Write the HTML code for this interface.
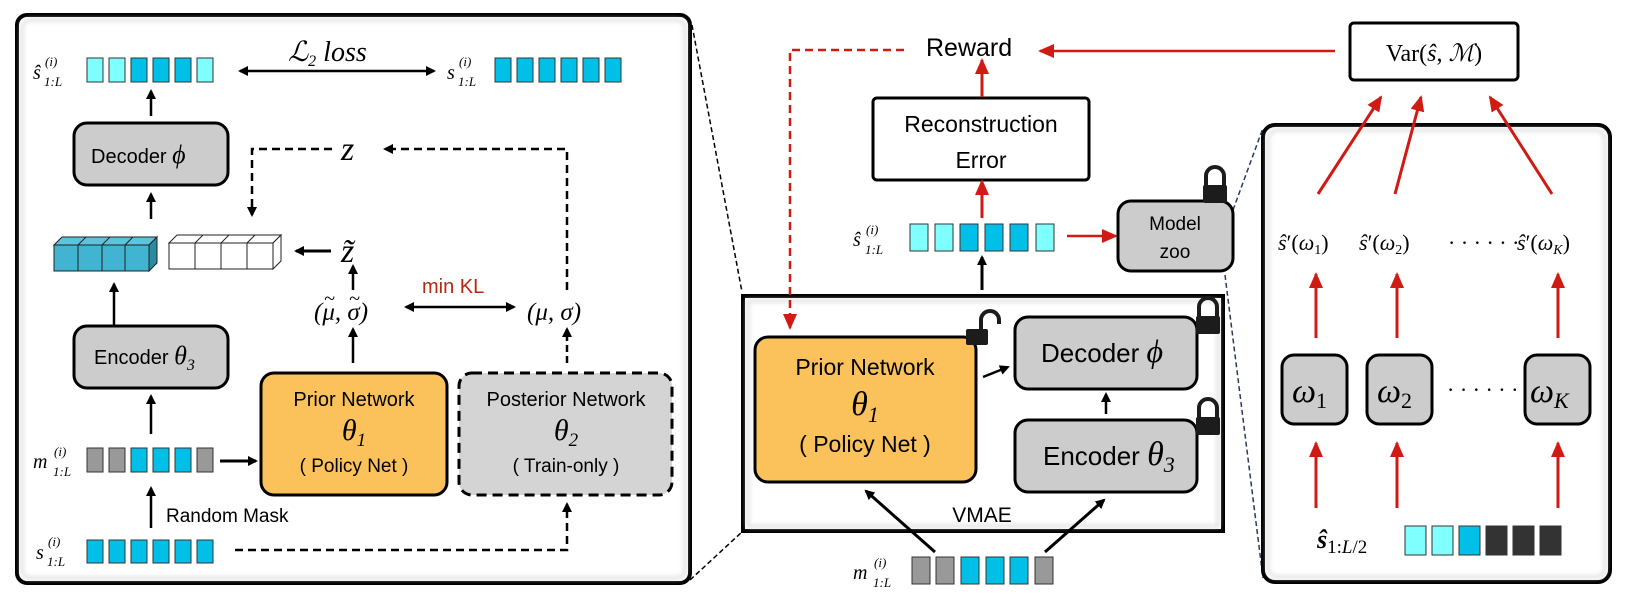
<!DOCTYPE html>
<html><head><meta charset="utf-8"><style>
html,body{margin:0;padding:0;background:#fff;width:1627px;height:604px;overflow:hidden}
svg{font-family:"Liberation Sans",sans-serif}
.m{font-family:"Liberation Serif",serif;font-style:italic}
</style></head><body>
<svg width="1627" height="604" viewBox="0 0 1627 604" xmlns="http://www.w3.org/2000/svg">
<defs>
<marker id="ab" markerWidth="10" markerHeight="10" refX="8" refY="5" orient="auto" markerUnits="userSpaceOnUse"><path d="M0,0 L10,5 L0,10 z" fill="#000"/></marker>
<marker id="ab2" markerWidth="10" markerHeight="10" refX="2" refY="5" orient="auto" markerUnits="userSpaceOnUse"><path d="M10,0 L0,5 L10,10 z" fill="#000"/></marker>
<marker id="ar" markerWidth="16" markerHeight="14" refX="14" refY="7" orient="auto" markerUnits="userSpaceOnUse"><path d="M0,0 L16,7 L0,14 z" fill="#d01a14"/></marker>
<filter id="sh"><feGaussianBlur stdDeviation="2"/></filter>
</defs>

<line x1="692" y1="25" x2="742" y2="292" stroke="#000" stroke-width="1.5" stroke-dasharray="5,3"/>
<line x1="690" y1="580" x2="743" y2="531" stroke="#000" stroke-width="1.5" stroke-dasharray="5,3"/>
<line x1="1233" y1="210" x2="1263" y2="128" stroke="#2a3a5c" stroke-width="1.5" stroke-dasharray="5,3"/>
<line x1="1225" y1="275" x2="1263" y2="578" stroke="#2a3a5c" stroke-width="1.5" stroke-dasharray="5,3"/>

<rect x="17" y="15" width="673" height="568" rx="10" fill="#fff" stroke="#000" stroke-width="4"/>
<rect x="22" y="20" width="663" height="558" rx="8" fill="none" stroke="#ddd" stroke-width="3" filter="url(#sh)"/>

<text x="33" y="79" class="m" font-size="20">ŝ</text><text x="45" y="66" class="m" font-size="13">(i)</text><text x="44" y="86" class="m" font-size="13">1:L</text>
<g stroke="#333" stroke-width="1">
<rect x="87" y="58" width="16" height="24" fill="#80ffff"/><rect x="109" y="58" width="16" height="24" fill="#80ffff"/><rect x="131" y="58" width="16" height="24" fill="#00c0e8"/><rect x="153" y="58" width="16" height="24" fill="#00c0e8"/><rect x="175" y="58" width="16" height="24" fill="#00c0e8"/><rect x="197" y="58" width="16" height="24" fill="#80ffff"/>
<rect x="495" y="58" width="16" height="24" fill="#00c0e8"/><rect x="517" y="58" width="16" height="24" fill="#00c0e8"/><rect x="539" y="58" width="16" height="24" fill="#00c0e8"/><rect x="561" y="58" width="16" height="24" fill="#00c0e8"/><rect x="583" y="58" width="16" height="24" fill="#00c0e8"/><rect x="605" y="58" width="16" height="24" fill="#00c0e8"/>
</g>
<text x="447" y="79" class="m" font-size="20">s</text><text x="459" y="66" class="m" font-size="13">(i)</text><text x="458" y="86" class="m" font-size="13">1:L</text>
<line x1="240" y1="71" x2="434" y2="71" stroke="#000" stroke-width="2.5" marker-end="url(#ab)" marker-start="url(#ab2)"/>
<text x="288" y="61" class="m" font-size="28">ℒ<tspan font-size="16" dy="5">2</tspan><tspan dy="-5"> loss</tspan></text>

<rect x="74" y="123" width="154" height="62" rx="13" fill="#ccc" stroke="#000" stroke-width="3"/>
<text x="91" y="163" font-size="20">Decoder <tspan class="m" font-size="26">ϕ</tspan></text>
<line x1="151" y1="116" x2="151" y2="91" stroke="#000" stroke-width="2.5" marker-end="url(#ab)"/>
<line x1="151" y1="219" x2="151" y2="194" stroke="#000" stroke-width="2.5" marker-end="url(#ab)"/>

<text x="341" y="160" class="m" font-size="34">z</text>
<path d="M332,149 H252 V215" fill="none" stroke="#000" stroke-width="2.5" stroke-dasharray="8,5" marker-end="url(#ab)"/>
<path d="M567,290 V149 H385" fill="none" stroke="#000" stroke-width="2.5" stroke-dasharray="8,5" marker-end="url(#ab)"/>

<g stroke="#222" stroke-width="1">
<path d="M54,245 L62,237 L157,237 L149,245z" fill="#5cc4dc"/>
<path d="M149,245 L157,237 L157,263 L149,271z" fill="#2a8aa0"/>
<rect x="54" y="245" width="95" height="26" fill="#40b4d0"/>
<line x1="78" y1="245" x2="78" y2="271"/><line x1="102" y1="245" x2="102" y2="271"/><line x1="125" y1="245" x2="125" y2="271"/>
<line x1="78" y1="245" x2="86" y2="237"/><line x1="102" y1="245" x2="110" y2="237"/><line x1="125" y1="245" x2="133" y2="237"/>
<path d="M169,243 L177,235 L281,235 L273,243z" fill="#fff"/>
<path d="M273,243 L281,235 L281,261 L273,269z" fill="#fff"/>
<rect x="169" y="243" width="104" height="26" fill="#fff"/>
<line x1="195" y1="243" x2="195" y2="269"/><line x1="221" y1="243" x2="221" y2="269"/><line x1="247" y1="243" x2="247" y2="269"/>
<line x1="195" y1="243" x2="203" y2="235"/><line x1="221" y1="243" x2="229" y2="235"/><line x1="247" y1="243" x2="255" y2="235"/>
</g>
<text x="341" y="262" class="m" font-size="34">z̃</text>
<line x1="331" y1="251" x2="296" y2="251" stroke="#000" stroke-width="3" marker-end="url(#ab)"/>
<line x1="353" y1="290" x2="353" y2="266" stroke="#000" stroke-width="2.5" marker-end="url(#ab)"/>
<text x="422" y="293" font-size="20" fill="#b22a10">min KL</text>
<text x="314" y="320" class="m" font-size="25">(μ, σ)</text>
<text x="324" y="305" class="m" font-size="20">~</text>
<text x="349" y="305" class="m" font-size="20">~</text>
<text x="527" y="320" class="m" font-size="25">(μ, σ)</text>
<line x1="406" y1="307" x2="514" y2="307" stroke="#000" stroke-width="2.5" marker-end="url(#ab)" marker-start="url(#ab2)"/>
<line x1="114" y1="325" x2="114" y2="284" stroke="#000" stroke-width="2.5" marker-end="url(#ab)"/>

<rect x="74" y="326" width="154" height="62" rx="13" fill="#ccc" stroke="#000" stroke-width="3"/>
<text x="94" y="364" font-size="20">Encoder <tspan class="m" font-size="26">θ</tspan><tspan class="m" font-size="16" dy="6">3</tspan></text>
<line x1="151" y1="434" x2="151" y2="396" stroke="#000" stroke-width="2.5" marker-end="url(#ab)"/>
<line x1="353" y1="363" x2="353" y2="329" stroke="#000" stroke-width="2.5" marker-end="url(#ab)"/>
<line x1="567" y1="363" x2="567" y2="329" stroke="#000" stroke-width="2.5" stroke-dasharray="7,4" marker-end="url(#ab)"/>

<rect x="261" y="373" width="186" height="122" rx="13" fill="#fbc15a" stroke="#000" stroke-width="3"/>
<text x="354" y="406" font-size="20" text-anchor="middle">Prior Network</text>
<text x="354" y="440" class="m" font-size="30" text-anchor="middle">θ<tspan font-size="19" dy="6">1</tspan></text>
<text x="354" y="472" font-size="19" text-anchor="middle">( Policy Net )</text>
<rect x="459" y="373" width="213" height="122" rx="13" fill="#d4d4d4" stroke="#000" stroke-width="3" stroke-dasharray="10,6"/>
<text x="566" y="406" font-size="20" text-anchor="middle">Posterior Network</text>
<text x="566" y="440" class="m" font-size="30" text-anchor="middle">θ<tspan font-size="19" dy="6">2</tspan></text>
<text x="566" y="472" font-size="19" text-anchor="middle">( Train-only )</text>

<text x="33" y="468" class="m" font-size="20">m</text><text x="54" y="456" class="m" font-size="13">(i)</text><text x="53" y="476" class="m" font-size="13">1:L</text>
<g stroke="#333" stroke-width="1">
<rect x="87" y="448" width="16" height="24" fill="#999"/><rect x="109" y="448" width="16" height="24" fill="#999"/><rect x="131" y="448" width="16" height="24" fill="#00c0e8"/><rect x="153" y="448" width="16" height="24" fill="#00c0e8"/><rect x="175" y="448" width="16" height="24" fill="#00c0e8"/><rect x="197" y="448" width="16" height="24" fill="#999"/>
<rect x="87" y="540" width="16" height="23" fill="#00c0e8"/><rect x="109" y="540" width="16" height="23" fill="#00c0e8"/><rect x="131" y="540" width="16" height="23" fill="#00c0e8"/><rect x="153" y="540" width="16" height="23" fill="#00c0e8"/><rect x="175" y="540" width="16" height="23" fill="#00c0e8"/><rect x="197" y="540" width="16" height="23" fill="#00c0e8"/>
</g>
<line x1="220" y1="461" x2="256" y2="461" stroke="#000" stroke-width="3" marker-end="url(#ab)"/>
<line x1="151" y1="528" x2="151" y2="488" stroke="#000" stroke-width="2.5" marker-end="url(#ab)"/>
<text x="166" y="522" font-size="19">Random Mask</text>
<text x="36" y="559" class="m" font-size="20">s</text><text x="48" y="546" class="m" font-size="13">(i)</text><text x="47" y="566" class="m" font-size="13">1:L</text>
<path d="M235,550 H567 V504" fill="none" stroke="#000" stroke-width="2.5" stroke-dasharray="8,5" marker-end="url(#ab)"/>

<text x="926" y="56" font-size="25">Reward</text>
<line x1="1335" y1="51" x2="1040" y2="51" stroke="#d01a14" stroke-width="2.5" marker-end="url(#ar)"/>
<rect x="873" y="98" width="216" height="82" rx="4" fill="#fff" stroke="#000" stroke-width="3"/>
<text x="981" y="132" font-size="23" text-anchor="middle">Reconstruction</text>
<text x="981" y="168" font-size="23" text-anchor="middle">Error</text>
<line x1="982" y1="97" x2="982" y2="60" stroke="#d01a14" stroke-width="3" marker-end="url(#ar)"/>
<line x1="982" y1="218" x2="982" y2="181" stroke="#d01a14" stroke-width="3" marker-end="url(#ar)"/>
<text x="853" y="246" class="m" font-size="20">ŝ</text><text x="866" y="234" class="m" font-size="13">(i)</text><text x="865" y="254" class="m" font-size="13">1:L</text>
<g stroke="#333" stroke-width="1">
<rect x="910" y="224" width="18" height="27" fill="#80ffff"/><rect x="935" y="224" width="18" height="27" fill="#80ffff"/><rect x="960" y="224" width="18" height="27" fill="#00c0e8"/><rect x="985" y="224" width="18" height="27" fill="#00c0e8"/><rect x="1010" y="224" width="18" height="27" fill="#00c0e8"/><rect x="1036" y="224" width="18" height="27" fill="#80ffff"/>
</g>
<line x1="1067" y1="236" x2="1116" y2="236" stroke="#d01a14" stroke-width="2.5" marker-end="url(#ar)"/>
<rect x="1118" y="201" width="115" height="70" rx="13" fill="#ccc" stroke="#000" stroke-width="3"/>
<text x="1175" y="230" font-size="19" text-anchor="middle">Model</text>
<text x="1175" y="258" font-size="19" text-anchor="middle">zoo</text>
<line x1="982" y1="290" x2="982" y2="257" stroke="#000" stroke-width="3" marker-end="url(#ab)"/>

<rect x="743" y="296" width="480" height="235" fill="#fff" stroke="#000" stroke-width="4"/>
<rect x="748" y="301" width="470" height="225" fill="none" stroke="#ddd" stroke-width="3" filter="url(#sh)"/>
<path d="M904,50 H790 V328" fill="none" stroke="#d01a14" stroke-width="2.5" stroke-dasharray="8,5" marker-end="url(#ar)"/>
<rect x="755" y="337" width="221" height="145" rx="13" fill="#fbc15a" stroke="#000" stroke-width="3"/>
<text x="865" y="375" font-size="23" text-anchor="middle">Prior Network</text>
<text x="865" y="415" class="m" font-size="34" text-anchor="middle">θ<tspan font-size="22" dy="7">1</tspan></text>
<text x="865" y="452" font-size="23" text-anchor="middle">( Policy Net )</text>
<rect x="1015" y="317" width="182" height="72" rx="13" fill="#ccc" stroke="#000" stroke-width="3"/>
<text x="1041" y="362" font-size="26">Decoder <tspan class="m" font-size="32">ϕ</tspan></text>
<rect x="1015" y="420" width="182" height="72" rx="13" fill="#ccc" stroke="#000" stroke-width="3"/>
<text x="1043" y="465" font-size="26">Encoder <tspan class="m" font-size="34">θ</tspan><tspan class="m" font-size="22" dy="7">3</tspan></text>
<line x1="983" y1="377" x2="1008" y2="367" stroke="#000" stroke-width="2.5" marker-end="url(#ab)"/>
<line x1="1106" y1="414" x2="1106" y2="394" stroke="#000" stroke-width="2.5" marker-end="url(#ab)"/>
<text x="982" y="522" font-size="21" text-anchor="middle">VMAE</text>
<line x1="935" y1="552" x2="866" y2="491" stroke="#000" stroke-width="3" marker-end="url(#ab)"/>
<line x1="1045" y1="552" x2="1104" y2="500" stroke="#000" stroke-width="3" marker-end="url(#ab)"/>
<text x="853" y="579" class="m" font-size="20">m</text><text x="874" y="567" class="m" font-size="13">(i)</text><text x="873" y="587" class="m" font-size="13">1:L</text>
<g stroke="#333" stroke-width="1">
<rect x="912" y="557" width="18" height="27" fill="#999"/><rect x="936" y="557" width="18" height="27" fill="#999"/><rect x="961" y="557" width="18" height="27" fill="#00c0e8"/><rect x="986" y="557" width="18" height="27" fill="#00c0e8"/><rect x="1010" y="557" width="18" height="27" fill="#00c0e8"/><rect x="1035" y="557" width="18" height="27" fill="#999"/>
</g>

<g fill="#1c1c1c">
<path d="M1199,317 v-10 a9,9 0 0 1 18,0 v10" fill="none" stroke="#1c1c1c" stroke-width="4"/><rect x="1196" y="316" width="24" height="18" rx="2"/>
<path d="M1199,418 v-10 a9,9 0 0 1 18,0 v10" fill="none" stroke="#1c1c1c" stroke-width="4"/><rect x="1196" y="417" width="24" height="18" rx="2"/>
<path d="M1206,186 v-10 a9,9 0 0 1 18,0 v10" fill="none" stroke="#1c1c1c" stroke-width="4"/><rect x="1203" y="185" width="24" height="18" rx="2"/>
<path d="M981,330 v-10 a9,9 0 0 1 18,0 v4" fill="none" stroke="#1c1c1c" stroke-width="4"/><rect x="966" y="329" width="22" height="16" rx="2"/>
</g>

<rect x="1350" y="23" width="168" height="57" rx="4" fill="#fff" stroke="#000" stroke-width="3"/>
<text x="1434" y="61" font-family="Liberation Serif,serif" font-size="24" text-anchor="middle">Var(<tspan font-style="italic">ŝ</tspan>, <tspan font-style="italic">ℳ</tspan>)</text>
<rect x="1263" y="125" width="347" height="457" rx="12" fill="#fff" stroke="#000" stroke-width="4"/>
<rect x="1268" y="130" width="337" height="447" rx="10" fill="none" stroke="#ddd" stroke-width="3" filter="url(#sh)"/>
<g stroke="#d01a14" stroke-width="3">
<line x1="1318" y1="194" x2="1381" y2="97" marker-end="url(#ar)"/>
<line x1="1395" y1="194" x2="1421" y2="97" marker-end="url(#ar)"/>
<line x1="1552" y1="194" x2="1490" y2="97" marker-end="url(#ar)"/>
<line x1="1316" y1="338" x2="1316" y2="274" marker-end="url(#ar)"/>
<line x1="1397" y1="338" x2="1397" y2="274" marker-end="url(#ar)"/>
<line x1="1558" y1="338" x2="1558" y2="274" marker-end="url(#ar)"/>
<line x1="1316" y1="508" x2="1316" y2="443" marker-end="url(#ar)"/>
<line x1="1397" y1="508" x2="1397" y2="443" marker-end="url(#ar)"/>
<line x1="1558" y1="508" x2="1558" y2="443" marker-end="url(#ar)"/>
</g>
<g font-family="Liberation Serif,serif" font-size="22">
<text x="1278" y="250"><tspan font-style="italic">ŝ</tspan>′(<tspan font-style="italic">ω</tspan><tspan font-size="14" dy="4">1</tspan><tspan dy="-4">)</tspan></text>
<text x="1359" y="250"><tspan font-style="italic">ŝ</tspan>′(<tspan font-style="italic">ω</tspan><tspan font-size="14" dy="4">2</tspan><tspan dy="-4">)</tspan></text>
<text x="1448" y="250">· · · · · ·</text>
<text x="1517" y="250"><tspan font-style="italic">ŝ</tspan>′(<tspan font-style="italic">ω</tspan><tspan font-size="14" font-style="italic" dy="4">K</tspan><tspan dy="-4">)</tspan></text>
<text x="1447" y="397">· · · · · ·</text>
</g>
<rect x="1282" y="355" width="65" height="69" rx="12" fill="#ccc" stroke="#000" stroke-width="3"/>
<rect x="1367" y="355" width="65" height="69" rx="12" fill="#ccc" stroke="#000" stroke-width="3"/>
<rect x="1525" y="355" width="65" height="69" rx="12" fill="#ccc" stroke="#000" stroke-width="3"/>
<g font-family="Liberation Serif,serif" font-style="italic" font-size="34">
<text x="1292" y="402">ω<tspan font-size="22" font-style="normal" dy="6">1</tspan></text>
<text x="1377" y="402">ω<tspan font-size="22" font-style="normal" dy="6">2</tspan></text>
<text x="1530" y="402">ω<tspan font-size="22" dy="6">K</tspan></text>
</g>
<text x="1317" y="548" font-family="Liberation Serif,serif" font-size="26"><tspan font-style="italic" font-weight="bold">ŝ</tspan><tspan font-size="19" dy="5">1:</tspan><tspan font-size="19" font-style="italic">L</tspan><tspan font-size="19">/2</tspan></text>
<g stroke="#333" stroke-width="1">
<rect x="1405" y="526" width="21" height="29" fill="#80ffff"/><rect x="1432" y="526" width="21" height="29" fill="#80ffff"/><rect x="1459" y="526" width="21" height="29" fill="#00c0e8"/><rect x="1486" y="526" width="21" height="29" fill="#333"/><rect x="1513" y="526" width="21" height="29" fill="#333"/><rect x="1540" y="526" width="21" height="29" fill="#333"/>
</g>
</svg>
</body></html>
